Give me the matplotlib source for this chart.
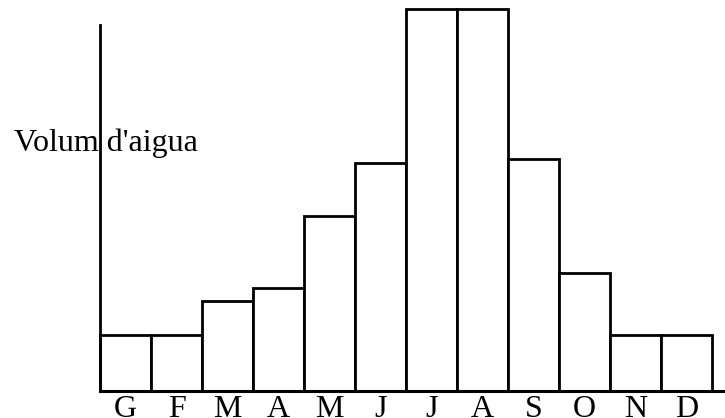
import numpy as np
import matplotlib
matplotlib.use('Agg')
import matplotlib.pyplot as plt

# data (heights in arbitrary units)
months = ['G', 'F', 'M', 'A', 'M', 'J', 'J', 'A', 'S', 'O', 'N', 'D']
volum = [56, 56, 90, 103, 175, 228, 382, 382, 232, 118, 56, 56]

plt.rcParams['font.family'] = ['Liberation Serif', 'DejaVu Serif']

W, H = 725, 418
fig = plt.figure(figsize=(W / 100, H / 100), dpi=100)
# axes: left at x=100px, bottom at y=391px (from top), up to top of figure
ax = fig.add_axes([100 / W, (H - 391) / H, (W - 100) / W, 391 / H])

x = np.arange(len(months))
ax.bar(x, volum, width=1.0, align='edge', facecolor='white',
       edgecolor='black', linewidth=2.0, clip_on=False, zorder=2)

ax.set_xlim(0, 12 * 625 / 612)
ax.set_ylim(0, 391)

for s in ['top', 'right']:
    ax.spines[s].set_visible(False)
ax.spines['left'].set_bounds(0, 366)
ax.spines['left'].set_linewidth(2.0)
ax.spines['bottom'].set_linewidth(2.2)
ax.spines['left'].set_zorder(3)
ax.spines['bottom'].set_zorder(3)

ax.set_yticks([])
ax.set_xticks(x + 0.5)
ax.set_xticklabels(months, fontsize=23)
ax.tick_params(axis='x', length=0, pad=3)

ax.text(14 / W, (H - 151) / H, "Volum d'aigua", transform=fig.transFigure,
        fontsize=23, va='baseline', ha='left', zorder=1, clip_on=False)

fig.savefig('out.png', dpi=100)
